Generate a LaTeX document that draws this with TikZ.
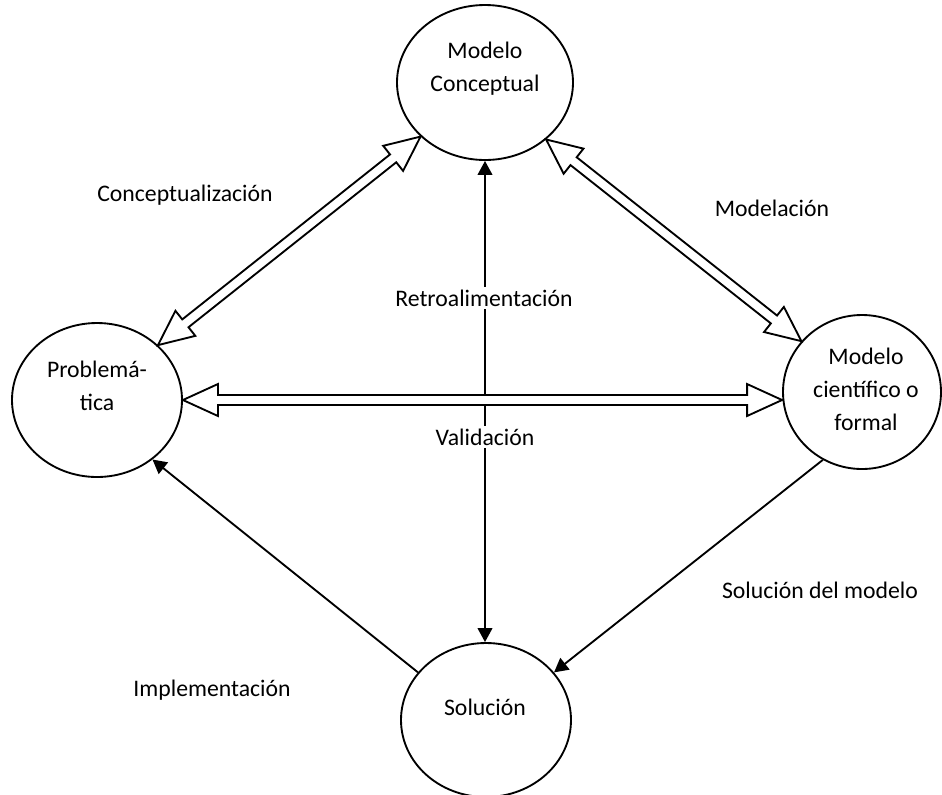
\documentclass[tikz,border=0pt]{standalone}
\usepackage{fontspec}
\setmainfont{Carlito}
\usetikzlibrary{shapes.geometric,arrows.meta,calc}

% hollow double-headed arrow between two points
\newcommand\hollowarrow[2]{%
  \path let \p1=(#1), \p2=(#2),
            \n1={atan2(\y2-\y1,\x2-\x1)},
            \n2={veclen(\x2-\x1,\y2-\y1)} in
        \pgfextra{\xdef\harot{\n1}\xdef\halen{\n2}};
  \begin{scope}[shift={(#1)}, rotate=\harot]
    \draw[hollow] (0pt,0pt) -- (26.25pt,12pt) -- (26.25pt,3.75pt)
      -- ({\halen-26.25pt},3.75pt) -- ({\halen-26.25pt},12pt)
      -- (\halen,0pt) -- ({\halen-26.25pt},-12pt) -- ({\halen-26.25pt},-3.75pt)
      -- (26.25pt,-3.75pt) -- (26.25pt,-12pt) -- cycle;
  \end{scope}}

\begin{document}
\begin{tikzpicture}[x=0.75pt,y=-0.75pt,
  stage/.style={draw, ellipse, line width=1.4pt, inner sep=0pt},
  txt/.style={font=\fontsize{17.8}{24.75}\selectfont, align=center, inner sep=1pt},
  lbl/.style={txt, fill=white, inner sep=2pt},
  hollow/.style={draw, fill=white, line width=1.4pt, line join=miter},
  flow/.style={line width=1.4pt, -{Triangle[length=10.5pt,width=11pt]}}]
\useasboundingbox (0,0) rectangle (942,794);

% stages
\node[stage, minimum width=132pt, minimum height=116.25pt] (MC) at (485,82.5) {};
\node[stage, minimum width=127.5pt, minimum height=115.5pt] (P) at (97,400) {};
\node[stage, minimum width=118.5pt, minimum height=115.5pt] (MCF) at (862,392) {};
\node[stage, minimum width=127.5pt, minimum height=115.5pt] (S) at (486,720) {};

\node[txt] (MCt) at (485,69) {Modelo\\Conceptual};
\node[txt] (Pt) at (97,386) {Problemá-\\tica};
\node[txt] (MCFt) at (866,389) {Modelo\\científico o\\formal};
\node[txt] (St) at (485,707) {Solución};

% vertical feedback / validation line
\coordinate (V) at (MC.south |- P.east);
\draw[flow] (V) -- (MC.south);
\draw[flow] (V) -- (V |- S.north);

% hollow double arrows
\hollowarrow{P.42}{MC.-140}
\hollowarrow{MC.-43}{MCF.140}
\hollowarrow{P.east}{MCF.west |- P.east}

% solid arrows
\draw[flow] (S.145) -- (P.-47);
\draw[flow] (MCF.-120) -- (S.35);

% labels
\node[txt] (l1) at (185,195) {Conceptualización};
\node[txt] (l2) at (772,208) {Modelación};
\node[lbl] (l3) at (484,298) {Retroalimentación};
\node[lbl] (l4) at (485,437) {Validación};
\node[txt] (l5) at (212,690) {Implementación};
\node[txt] (l6) at (820,590) {Solución del modelo};
\end{tikzpicture}
\end{document}
